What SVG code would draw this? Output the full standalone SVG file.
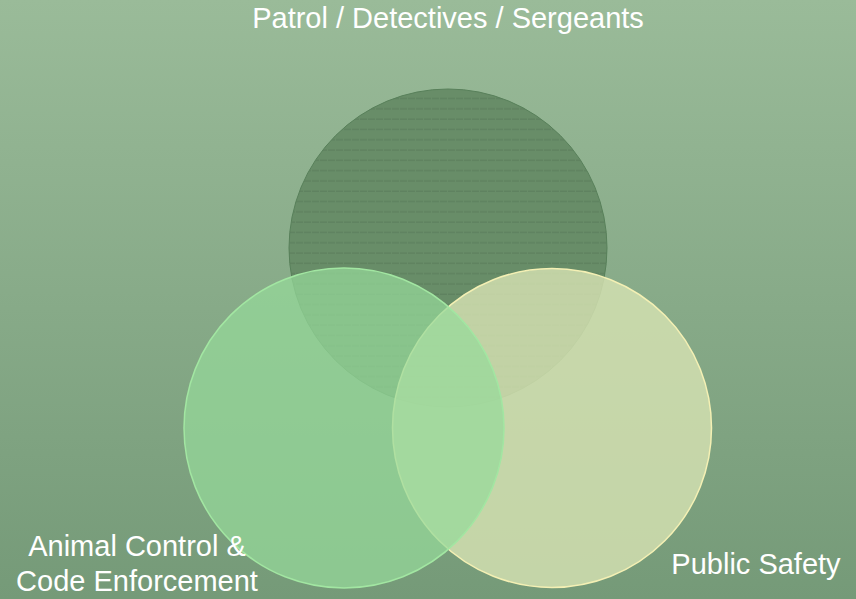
<svg xmlns="http://www.w3.org/2000/svg" width="856" height="599" viewBox="0 0 856 599">
<defs>
<linearGradient id="bg" x1="0" y1="0" x2="0" y2="1">
<stop offset="0" stop-color="#9abb99"/>
<stop offset="1" stop-color="#759a78"/>
</linearGradient>
<pattern id="stripes" x="0" y="89" width="8" height="10.3" patternUnits="userSpaceOnUse">
<rect width="8" height="10.3" fill="#688d68"/>
<rect x="0" y="9" width="7" height="1" fill="#5a7d5c"/>
</pattern>
<style>
.lbl{font-family:"Liberation Sans",Arial,sans-serif;fill:#ffffff;text-anchor:middle;font-size:29px;}
</style>
</defs>
<rect width="856" height="599" fill="url(#bg)"/>
<g id="patrol">
<circle cx="448" cy="248" r="159" fill="url(#stripes)" stroke="#58805a" stroke-width="1"/>
</g>
<g id="public-safety">
<circle cx="552" cy="428" r="159.5" fill="#d5e2b2" fill-opacity="0.82" stroke="#f4f0b4" stroke-width="1.5"/>
</g>
<g id="animal-control">
<circle cx="344" cy="428" r="160" fill="#96da9a" fill-opacity="0.72" stroke="#a2e6a2" stroke-width="1.5"/>
</g>
<g id="labels">
<text class="lbl" x="448" y="28">Patrol / Detectives / Sergeants</text>
<text class="lbl" x="137" y="556">Animal Control &amp;</text>
<text class="lbl" x="137" y="591">Code Enforcement</text>
<text class="lbl" x="756" y="574">Public Safety</text>
</g>
</svg>
